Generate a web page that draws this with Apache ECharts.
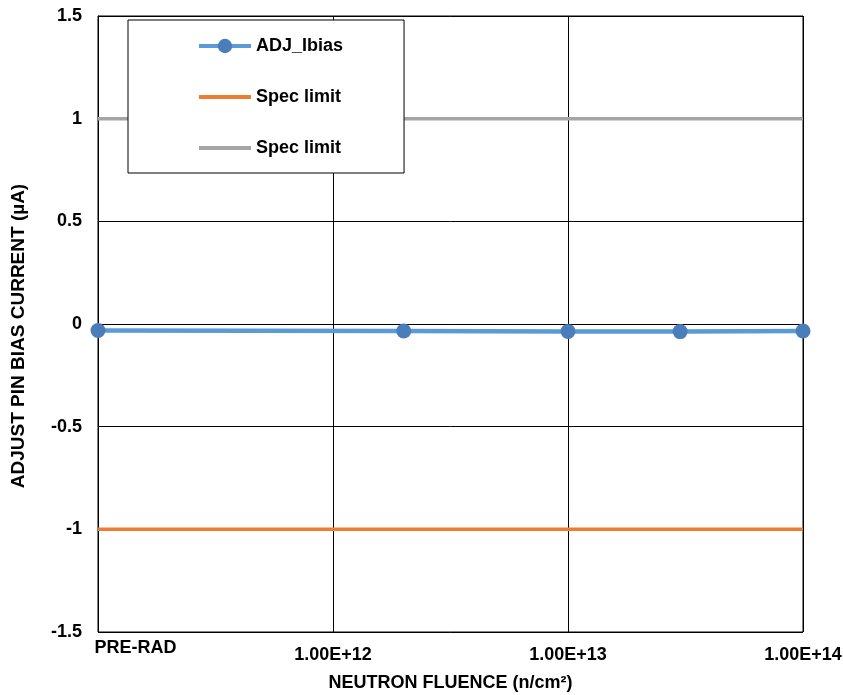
<!DOCTYPE html>
<html>
<head>
<meta charset="utf-8">
<script src="https://cdn.jsdelivr.net/npm/echarts@6/dist/echarts.min.js"></script>
<style>html,body{margin:0;padding:0;background:#fff}#c{width:843px;height:695px}</style>
</head>
<body>
<div id="c"></div>
<script>
var fluence = [1e11, 2e12, 1e13, 3e13, 1e14];
var adjIbias = [-0.032, -0.034, -0.036, -0.037, -0.034];
var limitX = [1e11, 1e14];
var specLow = [-1, -1];
var specHigh = [1, 1];
var seriesNames = ['ADJ_Ibias', 'Spec limit', 'Spec limit'];

function zip(xs, ys) { return xs.map(function (x, i) { return [x, ys[i]]; }); }

var FONT = 'Arial, "Liberation Sans", sans-serif';
var FS = 18;
var chart = echarts.init(document.getElementById('c'));
chart.setOption({
  backgroundColor: '#fff',
  animation: false,
  grid: { left: 98, right: 40, top: 16, bottom: 63, show: true, borderColor: '#000', borderWidth: 1, outerBoundsMode: 'none', containLabel: false },
  legend: {
    left: 128, top: 20,
    orient: 'vertical',
    data: [
      { name: 'ADJ_Ibias' },
      { name: 'Spec limit low', itemStyle: { opacity: 0 } },
      { name: 'Spec limit high', itemStyle: { opacity: 0 } }
    ],
    formatter: function (n) { return n === 'ADJ_Ibias' ? seriesNames[0] : (n === 'Spec limit low' ? seriesNames[1] : seriesNames[2]); },
    backgroundColor: '#fff', borderColor: '#000', borderWidth: 1,
    padding: [17, 61, 16, 69],
    itemGap: 33, itemWidth: 52, itemHeight: 18,
    lineStyle: { width: 4 },
    textStyle: { fontFamily: FONT, fontWeight: 'bold', fontSize: FS, color: '#000' }
  },
  xAxis: {
    type: 'log', logBase: 10, min: 1e11, max: 1e14,
    name: 'NEUTRON FLUENCE (n/cm²)', nameLocation: 'middle', nameGap: 42,
    nameTextStyle: { fontFamily: FONT, fontWeight: 'bold', fontSize: FS, color: '#000' },
    axisLine: { lineStyle: { color: '#000', width: 1 } },
    axisTick: { show: false },
    splitLine: { show: true, lineStyle: { color: '#000', width: 1 } },
    axisLabel: {
      margin: 7, fontFamily: FONT, fontWeight: 'bold', fontSize: FS, color: '#000',
      formatter: function (v) {
        if (Math.abs(v - 1e11) < 1) return '{p|PRE-RAD}';
        return '{n|' + v.toExponential(2).toUpperCase() + '}';
      },
      rich: {
        p: { fontFamily: FONT, fontWeight: 'bold', fontSize: FS, color: '#000', padding: [0, 0, 0, 75] },
        n: { fontFamily: FONT, fontWeight: 'bold', fontSize: FS, color: '#000', padding: [7, 0, 0, 0] }
      }
    }
  },
  yAxis: {
    type: 'value', min: -1.5, max: 1.5, interval: 0.5,
    name: 'ADJUST PIN BIAS CURRENT (µA)', nameLocation: 'middle', nameGap: 70,
    nameTextStyle: { fontFamily: FONT, fontWeight: 'bold', fontSize: 19, color: '#000', padding: [0, 24, 0, 0] },
    axisLine: { show: true, lineStyle: { color: '#000' } },
    axisTick: { show: false },
    splitLine: { show: true, lineStyle: { color: '#000', width: 1 } },
    axisLabel: {
      margin: 16, fontFamily: FONT, fontWeight: 'bold', fontSize: FS, color: '#000',
      formatter: function (v) { return String(v); }
    }
  },
  series: [
    {
      name: 'Spec limit low', type: 'line', data: zip(limitX, specLow),
      symbol: 'none', lineStyle: { color: '#ED7D31', width: 3.5 }, itemStyle: { color: '#ED7D31' }, z: 2
    },
    {
      name: 'Spec limit high', type: 'line', data: zip(limitX, specHigh),
      symbol: 'none', lineStyle: { color: '#A5A5A5', width: 3.5 }, itemStyle: { color: '#A5A5A5' }, z: 2
    },
    {
      name: 'ADJ_Ibias', type: 'line', data: zip(fluence, adjIbias),
      symbol: 'circle', symbolSize: 15,
      lineStyle: { color: '#5B9BD5', width: 4.5 }, itemStyle: { color: '#4A7EBB' }, z: 3
    }
  ]
});
</script>
</body>
</html>
